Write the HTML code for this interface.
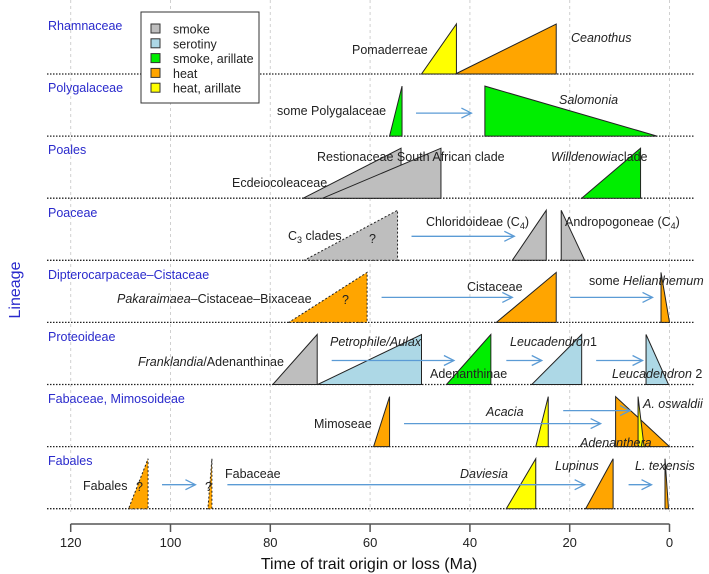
<!DOCTYPE html>
<html><head><meta charset="utf-8"><style>
html,body{margin:0;padding:0;background:#fff;}
svg{display:block;font-family:"Liberation Sans",Arial,sans-serif;}
.lab{font-size:12.5px;fill:#222;}
.rl{font-size:12.5px;fill:#2a2acc;}
</style></head><body>
<svg id="chart" width="709" height="574" viewBox="0 0 709 574" xmlns="http://www.w3.org/2000/svg">
<g id="grid"></g>
<g id="rows"></g>
<g id="marks"></g>
<g id="arrows"></g>
<g id="axis"></g>
<text x="369" y="569" text-anchor="middle" style="font-size:16px;fill:#111">Time of trait origin or loss (Ma)</text>
<text transform="translate(20,290) rotate(-90)" text-anchor="middle" style="font-size:16px;fill:#2a2acc">Lineage</text>
<g>
<text class="rl" x="48" y="30">Rhamnaceae</text>
<text class="rl" x="48" y="92">Polygalaceae</text>
<text class="rl" x="48" y="154">Poales</text>
<text class="rl" x="48" y="217">Poaceae</text>
<text class="rl" x="48" y="279">Dipterocarpaceae–Cistaceae</text>
<text class="rl" x="48" y="341">Proteoideae</text>
<text class="rl" x="48" y="403">Fabaceae, Mimosoideae</text>
<text class="rl" x="48" y="465">Fabales</text>
</g>
<g>
<text class="lab" x="352" y="54">Pomaderreae</text>
<text class="lab" x="571" y="42" font-style="italic">Ceanothus</text>
<text class="lab" x="277" y="115">some Polygalaceae</text>
<text class="lab" x="559" y="104" font-style="italic">Salomonia</text>
<text class="lab" x="317" y="161">Restionaceae South African clade</text>
<text class="lab" x="232" y="187">Ecdeiocoleaceae</text>
<text class="lab" x="551" y="161"><tspan font-style="italic">Willdenowia</tspan>clade</text>
<text class="lab" x="288" y="240">C<tspan font-size="9" dy="3">3</tspan><tspan dy="-3"> clades</tspan></text>
<text class="lab" x="369" y="243">?</text>
<text class="lab" x="426" y="226">Chloridoideae (C<tspan font-size="9" dy="3">4</tspan><tspan dy="-3">)</tspan></text>
<text class="lab" x="565" y="226">Andropogoneae (C<tspan font-size="9" dy="3">4</tspan><tspan dy="-3">)</tspan></text>
<text class="lab" x="117" y="303"><tspan font-style="italic">Pakaraimaea</tspan>–Cistaceae–Bixaceae</text>
<text class="lab" x="342" y="304">?</text>
<text class="lab" x="467" y="291">Cistaceae</text>
<text class="lab" x="589" y="285">some <tspan font-style="italic">Helianthemum</tspan></text>
<text class="lab" x="138" y="366"><tspan font-style="italic">Franklandia</tspan>/Adenanthinae</text>
<text class="lab" x="330" y="346" font-style="italic">Petrophile/Aulax</text>
<text class="lab" x="430" y="378">Adenanthinae</text>
<text class="lab" x="510" y="346"><tspan font-style="italic">Leucadendron</tspan>1</text>
<text class="lab" x="612" y="378"><tspan font-style="italic">Leucadendron</tspan> 2</text>
<text class="lab" x="314" y="428">Mimoseae</text>
<text class="lab" x="486" y="416" font-style="italic">Acacia</text>
<text class="lab" x="643" y="408" font-style="italic">A. oswaldii</text>
<text class="lab" x="580" y="447" font-style="italic">Adenanthera</text>
<text class="lab" x="83" y="490">Fabales</text>
<text class="lab" x="136" y="491">?</text>
<text class="lab" x="205" y="491">?</text>
<text class="lab" x="225" y="478">Fabaceae</text>
<text class="lab" x="460" y="478" font-style="italic">Daviesia</text>
<text class="lab" x="555" y="470" font-style="italic">Lupinus</text>
<text class="lab" x="635" y="470" font-style="italic">L. texensis</text>
</g>
<g id="legend">
<rect x="141" y="12" width="118" height="91" fill="#fff" stroke="#333"/>
</g>
</svg>
<script>
const ticks = [120, 100, 80, 60, 40, 20, 0];
const rowNames = ["Rhamnaceae","Polygalaceae","Poales","Poaceae","Dipterocarpaceae–Cistaceae","Proteoideae","Fabaceae, Mimosoideae","Fabales"];
const triNames = ["pomaderreae","ceanothus","some-polygalaceae","salomonia","ecdeiocoleaceae","restionaceae","willdenowia","c3-clades","chloridoideae","andropogoneae","pakaraimaea","cistaceae","helianthemum","franklandia","petrophile","adenanthinae","leucadendron1","leucadendron2","mimoseae","acacia","adenanthera","a-oswaldii","fabales","fabaceae","daviesia","lupinus","l-texensis"];
const triRow = [0,0,1,1,2,2,2,3,3,3,4,4,4,5,5,5,5,5,6,6,6,6,7,7,7,7,7];
const triFrom = [49.7,42.9,56.1,37,73.4,69.5,17.6,73.2,31.5,21.7,76.3,34.7,1.7,79.5,70.5,44.7,27.6,4.7,59.3,26.8,10.8,6.3,108.4,92.5,32.7,16.8,0.9];
const triTo = [42.7,22.7,53.6,2.5,53.8,45.8,5.8,54.5,24.7,17,60.6,22.7,0,70.6,49.7,35.8,17.6,0.2,56.1,24.3,0,5.1,104.5,91.7,26.8,11.3,0.2];
const triApex = ["r","r","r","l","r","r","r","r","r","l","r","r","l","r","r","r","r","l","r","r","l","l","r","r","r","r","l"];
const triTrait = ["heat, arillate","heat","smoke, arillate","smoke, arillate","smoke","smoke","smoke, arillate","smoke","smoke","smoke","heat","heat","heat","smoke","serotiny","smoke, arillate","serotiny","serotiny","heat","heat, arillate","heat","heat, arillate","heat","heat","heat, arillate","heat","heat"];
const triDashed = [0,0,0,0,0,0,0,1,0,0,1,0,0,0,0,0,0,0,0,0,0,0,1,1,0,0,0];
const arrowRow = [1,3,4,4,5,5,5,6,6,7,7,7];
const arrowFrom = [50.8,51.7,57.7,19.9,67.7,32.7,14.7,53.2,21.3,101.7,88.6,8.2];
const arrowTo = [39.7,31.1,31.5,3.4,43.2,25.6,5.4,13.8,7.9,95,17,3.6];
const arrowLift = [0.46,0.48,0.5,0.5,0.48,0.48,0.48,0.46,0.72,0.48,0.48,0.48];
const legendLabels = ["smoke","serotiny","smoke, arillate","heat","heat, arillate"];
const legendColors = ["#bebebe","#add8e6","#00ee00","#ffa500","#ffff00"];

const NS = "http://www.w3.org/2000/svg";
const x = t => 669.5 - t * 4.99;
const rowBase = r => 74 + r * 62.1;
const triH = 50;
const colorOf = tr => legendColors[legendLabels.indexOf(tr)];
function mk(tag, attrs, parent){const e=document.createElementNS(NS,tag);for(const k in attrs)e.setAttribute(k,attrs[k]);parent.appendChild(e);return e;}

const grid=document.getElementById('grid'), axis=document.getElementById('axis');
ticks.forEach(t=>{
  const g=mk('line',{x1:x(t),x2:x(t),y1:0,y2:512,stroke:'#d0d0d0','stroke-dasharray':'3,3','stroke-width':1},grid);
  
  
  const tk=mk('line',{x1:x(t),x2:x(t),y1:524,y2:532,stroke:'#555','stroke-width':1.5},axis);
  
  
  const tl=mk('text',{x:x(t),y:547,'text-anchor':'middle',style:'font-size:13px;fill:#222'},axis);
  tl.textContent=t;
  
  
});
const al=mk('line',{x1:x(ticks[0]),x2:x(ticks[ticks.length-1]),y1:524,y2:524,stroke:'#555','stroke-width':1.5},axis);



const rows=document.getElementById('rows');
rowNames.forEach((n,i)=>{
  const l=mk('line',{x1:47,x2:694,y1:rowBase(i),y2:rowBase(i),stroke:'#222','stroke-dasharray':'1.5,1.5','stroke-width':1.3},rows);
  
  
});

const marks=document.getElementById('marks');
triFrom.forEach((f,i)=>{
  const b=rowBase(triRow[i]), top=b-triH;
  const xa=x(f), xb=x(triTo[i]);
  const xp = triApex[i]==='r'?xb:xa;
  const p=mk('polygon',{points:`${xa},${b} ${xb},${b} ${xp},${top}`,fill:colorOf(triTrait[i]),stroke:'#222','stroke-width':1,'stroke-dasharray':triDashed[i]?'2,2':'none'},marks);
  
  
});

const arrows=document.getElementById('arrows');
arrowFrom.forEach((f,i)=>{
  const y=rowBase(arrowRow[i])-triH*arrowLift[i];
  const x1=x(f), x2=x(arrowTo[i]);
  const g=mk('g',{},arrows);
  
  
  mk('line',{x1:x1,x2:x2,y1:y,y2:y,stroke:'#5b9bd5','stroke-width':1.3},g);
  mk('polyline',{points:`${x2-10},${y-5} ${x2},${y} ${x2-10},${y+5}`,fill:'none',stroke:'#5b9bd5','stroke-width':1.3},g);
});

const legend=document.getElementById('legend');
legendLabels.forEach((lab,i)=>{
  const y=29+i*14.8;
  const s=mk('rect',{x:151,y:y-5,width:9,height:9,fill:legendColors[i],stroke:'#333'},legend);
  
  
  const t=mk('text',{x:173,y:y+4.5,style:'font-size:12.5px;fill:#222'},legend);
  t.textContent=lab;
  
  
});
</script>
</body></html>
